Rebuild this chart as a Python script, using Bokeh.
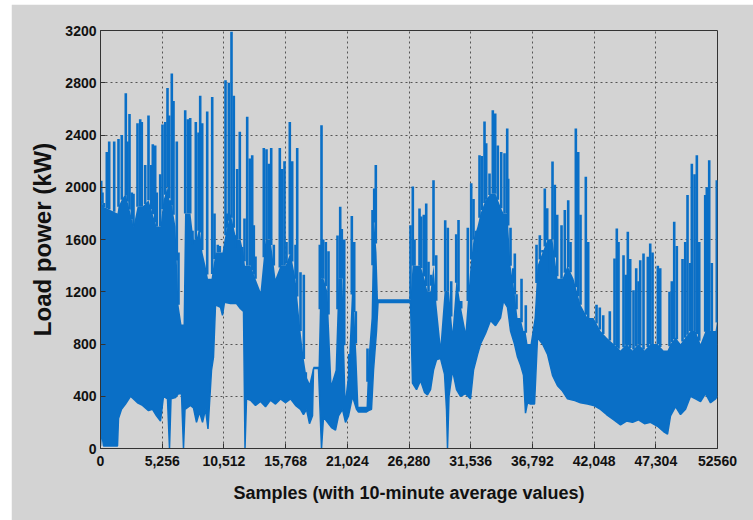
import numpy as np
from bokeh.plotting import figure
from bokeh.models import FixedTicker, Range1d
from bokeh.embed import file_html
from bokeh.resources import INLINE

# ---------------- data ----------------
x_ticks = [0, 5256, 10512, 15768, 21024, 26280, 31536, 36792, 42048, 47304, 52560]
x_tick_labels = ["0", "5,256", "10,512", "15,768", "21,024", "26,280",
                 "31,536", "36,792", "42,048", "47,304", "52560"]
y_ticks = [0, 400, 800, 1200, 1600, 2000, 2400, 2800, 3200]

# lower envelope of the load signal and top of its densely filled body
env_x = [0, 85, 256, 1448, 1533, 1789, 2130, 2556, 2811, 3152, 3578, 4089, 4430, 4771,
         5111, 5367, 5708, 5878, 6006, 6389, 6645, 6900, 7071, 7198, 7667, 7923, 8178,
         8434, 8690, 8945, 9157, 9456, 9626, 9797, 10223, 10393, 10564, 11075, 11586,
         11927, 12182, 12310, 12438, 12779, 13204, 13630, 14056, 14482, 14908, 15334,
         15760, 16186, 16612, 17038, 17293, 17549, 17804, 18060, 18145, 18571, 18741,
         18827, 18997, 19338, 19679, 20020, 20275, 20616, 20872, 21127, 21468, 21809,
         21979, 22660, 22831, 23086, 23257, 23513, 23640, 26409, 26579, 26920, 27261,
         27602, 27857, 28113, 28368, 28624, 28965, 29305, 29475, 29561, 29688, 29987,
         30328, 30668, 31094, 31520, 31776, 32116, 32372, 32798, 33224, 33650, 34076,
         34332, 34672, 34928, 35268, 35524, 35780, 36035, 36205, 36376, 36632, 36973,
         37228, 37654, 38080, 38506, 38932, 39358, 39784, 40295, 40891, 41488, 42000,
         42595, 43106, 43703, 44299, 44810, 45321, 45832, 46343, 46855, 47451, 47962,
         48303, 48558, 48984, 49410, 49836, 50262, 50688, 51114, 51540, 51966, 52392,
         52560]
env_low = [20, 130, 20, 20, 230, 300, 340, 400, 380, 350, 330, 290, 300, 250,
           210, 400, 380, 0, 380, 390, 420, 420, 0, 300, 330, 310, 200,
           280, 200, 300, 150, 600, 700, 1100, 1080, 1020, 1120, 1110, 1110,
           1070, 1050, 0, 380, 370, 330, 360, 320, 370, 340, 380,
           350, 380, 330, 300, 260, 300, 190, 250, 612, 612, 200,
           0, 240, 200, 160, 140, 250, 300, 200, 250, 400, 300,
           280, 280, 290, 300, 600, 900, 1118, 1118, 500, 450, 520,
           430, 410, 450, 600, 680, 690, 570, 300, 0, 400, 600,
           450, 400, 420, 380, 600, 720, 800, 880, 980, 940, 1000,
           1130, 1080, 900, 800, 700, 640, 560, 270, 350, 340, 340,
           850, 800, 720, 560, 480, 440, 380, 370, 350, 340, 330,
           300, 260, 220, 180, 210, 200, 220, 190, 200, 170, 130,
           110, 250, 320, 260, 300, 400, 380, 360, 420, 350, 380,
           400]
env_body = [1900, 1900, 1850, 1800, 1850, 1900, 1950, 1800, 1700, 1850, 1850, 1900, 1800, 1700,
            1700, 1900, 2000, 1900, 1900, 1700, 1100, 950, 950, 1800, 1800, 1600, 1600,
            1700, 1500, 1400, 1300, 1300, 1400, 1500, 1500, 1500, 1600, 1800, 1600,
            1600, 1500, 1400, 1400, 1400, 1300, 1200, 1600, 1600, 1300, 1400,
            1400, 1500, 1300, 900, 700, 550, 500, 600, 625, 625, 1300,
            1300, 1300, 1200, 500, 600, 1300, 1300, 400, 600, 1300, 700,
            320, 320, 700, 1000, 1800, 1500, 1142, 1142, 1400, 1400, 1400,
            1300, 1200, 1200, 1400, 1100, 800, 1200, 1200, 1200, 1200, 900,
            1300, 1100, 900, 1400, 1600, 1700, 1800, 1900, 1950, 1950, 1850,
            1800, 1800, 1400, 1200, 1000, 1000, 900, 900, 800, 800, 1000,
            1400, 1500, 1600, 1600, 1300, 1300, 1400, 1300, 1100, 1000, 1000,
            900, 850, 800, 750, 800, 750, 800, 750, 800, 800, 750,
            750, 800, 850, 800, 850, 900, 900, 800, 900, 900, 900,
            1000]

# individual load peaks (sample index, kW)
spike_x = [60, 170, 300, 537, 741, 1167, 1533, 1815, 2155, 2300, 2471, 2667, 2811, 3152,
           3382, 3518, 3808, 4089, 4319, 4455, 4660, 4796, 5086, 5282, 5512, 5708, 5852,
           6074, 6219, 6500, 6645, 7216, 7437, 7642, 7837, 8119, 8349, 8493,
           8664, 9090, 9516, 9712, 9993, 10163, 10649, 10793, 10930, 11160, 11356, 11501,
           11645, 11867, 12071, 12267, 12497, 12719, 12923, 13060, 13204, 13630, 13912,
           14142, 14337, 14542, 14764, 15275, 15479, 15675, 15845, 16126, 16331, 16612,
           16757, 17038, 17319,
           17490, 18682, 18827, 18972, 19194, 19423, 20190, 20420, 20556, 20761, 21187,
           21409, 21613, 21750, 22746, 23172, 23316, 23453,
           26409, 26605, 26750, 27176, 27321, 27543, 27747, 27942, 28172, 28368, 28598,
           29365, 29586, 29876, 30302, 30498, 30728, 31290, 31580, 31776, 32006, 32287,
           32483, 32713, 32858, 33139, 33420, 33625, 33846, 34136, 34417, 34647,
           34732, 34928, 35158, 35294, 35439, 35865, 36230, 37143, 37425, 37654, 37850,
           38054, 38276, 38506, 38702, 38906, 39273, 39554, 39843, 40039, 40492, 40696,
           40891, 41343, 41547, 42254, 42535, 42826, 43387,
           43788, 43983, 44128, 44554, 44750, 44921, 45125, 45406, 45636, 45832, 45977,
           46258, 46625, 46829, 47025, 47476, 47681, 48473, 48669, 48873, 49095, 49581,
           49811, 50007, 50237, 50374, 50604, 50800, 51004, 51513, 51650, 51854, 52075,
           52500]
spike_peak = [2050, 1960, 1880, 2270, 2350, 2350, 2370, 2400, 2720, 2350, 2560, 1960, 1950, 2490,
              2520, 2500, 2170, 2550, 2170, 2330, 2320, 1960, 2100, 2480, 2500, 2760, 2550,
              2870, 2660, 2350, 1500, 2590, 2520, 2530, 1560, 2500, 2420, 2700,
              2490, 2580, 2690, 1800, 1560, 1550, 2820, 1800, 2800, 3190, 2700, 1540,
              2140, 2425, 1380, 1760, 2540, 2220, 2245, 1710, 1470, 1200, 2300,
              2290, 2180, 2300, 1560, 2300, 2140, 2200, 1580, 2500, 2200, 1560,
              2300, 1350, 1330,
              540, 1560, 2475, 1600, 1580, 1510, 1630, 1850, 1680, 1600, 540,
              1780, 1580, 1050, 765, 1825, 1990, 2170,
              1710, 2006, 1600, 1837, 1777, 1790, 1876, 1430, 1330, 2054, 1480,
              1748, 1690, 1280, 1640, 1750, 1130, 1690, 2030, 1910, 1510, 2245,
              2240, 2503, 2337, 2105, 2590, 2565, 2320, 2270, 2260, 2450,
              2065, 1690, 1380, 1493, 1180, 1300, 1097, 1560, 1633, 1520, 1990,
              1840, 1350, 2197, 2020, 1790, 1710, 1825, 1900, 1580, 2450, 2270,
              1790, 2080, 1580, 1100, 1080, 1020, 1050,
              1455, 1684, 1580, 1480, 1330, 1660, 1450, 1212, 1380, 1280, 1442,
              1493, 1468, 1570, 1500, 1400, 1380, 1200, 1280, 1735, 1550, 1450,
              1580, 1940, 1420, 2180, 2100, 2245, 1580, 1940, 2000, 2207, 1420,
              2054]

# ---------------- styling ----------------
BG = "#d3d3d3"
BLUE = "#0a6fc6"
FONT = "Liberation Sans"

p = figure(width=742, height=516,
           x_range=Range1d(0, 52560), y_range=Range1d(0, 3200),
           output_backend="svg", toolbar_location=None,
           min_border_left=89, min_border_right=36,
           min_border_top=26, min_border_bottom=72,
           background_fill_color=BG, border_fill_color=BG)
p.margin = (4, 0, 0, 11)

p.outline_line_color = "#333333"
p.outline_line_width = 1

# data
p.varea(x=env_x, y1=env_low, y2=env_body, fill_color=BLUE)
p.line(env_x, env_low, line_color=BLUE, line_width=1.5)
spike_base = np.interp(spike_x, env_x, env_body)
p.segment(x0=spike_x, y0=spike_base, x1=spike_x, y1=spike_peak,
          line_color=BLUE, line_width=2.6)

# axes
p.xaxis.ticker = FixedTicker(ticks=x_ticks)
p.xaxis.major_label_overrides = {t: l for t, l in zip(x_ticks, x_tick_labels)}
p.yaxis.ticker = FixedTicker(ticks=y_ticks)

for ax in (p.xaxis[0], p.yaxis[0]):
    ax.major_tick_in = 5
    ax.major_tick_out = 0
    ax.minor_tick_line_color = None
    ax.axis_line_color = "#333333"
    ax.major_tick_line_color = "#333333"
    ax.major_label_text_font = FONT
    ax.major_label_text_font_style = "bold"
    ax.major_label_text_font_size = "14px"
    ax.major_label_text_color = "#111111"
    ax.axis_label_text_font = FONT
    ax.axis_label_text_font_style = "bold"
    ax.axis_label_text_color = "#111111"

p.xaxis.axis_label = "Samples (with 10-minute average values)"
p.xaxis.axis_label_text_font_size = "18px"
p.xaxis.major_label_standoff = 7
p.xaxis.axis_label_standoff = 14

p.yaxis.axis_label = "Load power (kW)"
p.yaxis.axis_label_text_font_size = "24px"
p.yaxis.major_label_standoff = 4
p.yaxis.axis_label_standoff = 6

# grid
p.xgrid.ticker = FixedTicker(ticks=x_ticks)
p.ygrid.ticker = FixedTicker(ticks=y_ticks)
for g in (p.xgrid[0], p.ygrid[0]):
    g.grid_line_color = "#555555"
    g.grid_line_dash = "2 3"
    g.grid_line_width = 1

open("out.html", "w").write(file_html(p, INLINE))
